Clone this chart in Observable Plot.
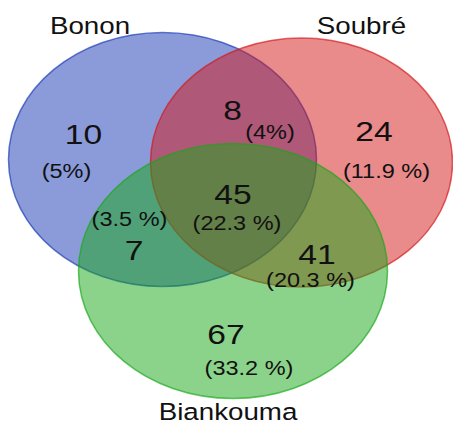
<!DOCTYPE html>
<html>
<head>
<meta charset="utf-8">
<script src="https://cdn.jsdelivr.net/npm/d3@7"></script>
<script src="https://cdn.jsdelivr.net/npm/@observablehq/plot@0.6"></script>
<style>
  html, body { margin: 0; padding: 0; background: #ffffff; }
  #chart svg { display: block; }
</style>
</head>
<body>
<div id="chart"></div>
<script>
// ---- data ----
const sets = ["Bonon", "Soubré", "Biankouma"];
const regions = ["Bonon only", "Bonon ∩ Soubré", "Soubré only", "Bonon ∩ Soubré ∩ Biankouma",
                 "Bonon ∩ Biankouma", "Soubré ∩ Biankouma", "Biankouma only"];
const counts = [10, 8, 24, 45, 7, 41, 67];
const percents = ["(5%)", "(4%)", "(11.9 %)", "(22.3 %)", "(3.5 %)", "(20.3 %)", "(33.2 %)"];

// ---- layout (diagram coordinates, separate from the data) ----
const setColors = ["#1737b3", "#d31517", "#17a717"];
const setCenters = [[162, 159], [301, 162], [232.5, 270.5]];
const setRadii = [154, 151, 154.5];
const ellipseAspect = 0.825;
const setLabelAnchors = [[89.5, 33], [361, 33], [227.5, 419]];
const countAnchors = [[83, 143], [232, 119], [373.5, 140], [232.5, 203], [133.5, 259], [316.5, 263], [225.5, 343]];
const percentAnchors = [[66, 177], [269.5, 138], [386, 177], [236.5, 229], [129, 225], [310, 286], [248.5, 374]];

// ellipse drawn as a custom symbol (horizontal radius = r, vertical = r * aspect)
const ellipseSymbol = {
  draw(ctx, size) {
    const rx = Math.sqrt(size / Math.PI), ry = rx * ellipseAspect, k = 0.5522847;
    ctx.moveTo(rx, 0);
    ctx.bezierCurveTo(rx, ry * k, rx * k, ry, 0, ry);
    ctx.bezierCurveTo(-rx * k, ry, -rx, ry * k, -rx, 0);
    ctx.bezierCurveTo(-rx, -ry * k, -rx * k, -ry, 0, -ry);
    ctx.bezierCurveTo(rx * k, -ry, rx, -ry * k, rx, 0);
    ctx.closePath();
  }
};

const setTable = sets.map((name, i) => ({
  name, color: setColors[i], cx: setCenters[i][0], cy: setCenters[i][1], r: setRadii[i],
  lx: setLabelAnchors[i][0], ly: setLabelAnchors[i][1]
}));
const regionTable = regions.map((region, i) => ({
  region, count: counts[i], pct: percents[i],
  cx: countAnchors[i][0], cy: countAnchors[i][1],
  px: percentAnchors[i][0], py: percentAnchors[i][1]
}));

const chart = Plot.plot({
  width: 453,
  height: 426,
  margin: 0,
  x: {domain: [0, 453], range: [0, 453], axis: null},
  y: {domain: [0, 426], range: [0, 426], axis: null},
  r: {type: "identity"},
  color: {type: "identity"},
  style: {fontFamily: "'Liberation Sans', Arial, Helvetica, sans-serif", background: "#ffffff", color: "#000"},
  marks: [
    Plot.dot(setTable, {
      x: "cx", y: "cy", r: "r", symbol: ellipseSymbol, sort: null,
      fill: "color", fillOpacity: 0.5, stroke: "color", strokeOpacity: 0.65, strokeWidth: 1.5
    }),
    Plot.text(setTable, {x: "lx", y: "ly", text: "name", fontSize: 23.5, lineAnchor: "bottom", fill: "#111"}),
    Plot.text(regionTable, {x: "cx", y: "cy", text: d => String(d.count), fontSize: 28, lineAnchor: "bottom", fill: "#111"}),
    Plot.text(regionTable, {x: "px", y: "py", text: "pct", fontSize: 21, lineAnchor: "bottom", fill: "#111"})
  ]
});

// the reference typography is horizontally stretched
const stretch = [1.18, 1.2, 1.12];
chart.querySelectorAll('g[aria-label="text"]').forEach((g, i) => {
  const s = stretch[i] ?? 1;
  g.querySelectorAll("text").forEach(t => {
    const tr = t.getAttribute("transform");
    if (tr) {
      t.setAttribute("transform", tr + ` scale(${s},1)`);
    } else {
      const x = +t.getAttribute("x") || 0, y = +t.getAttribute("y") || 0;
      t.removeAttribute("x"); t.removeAttribute("y");
      t.setAttribute("transform", `translate(${x},${y}) scale(${s},1)`);
    }
  });
});

document.getElementById("chart").appendChild(chart);
</script>
</body>
</html>
